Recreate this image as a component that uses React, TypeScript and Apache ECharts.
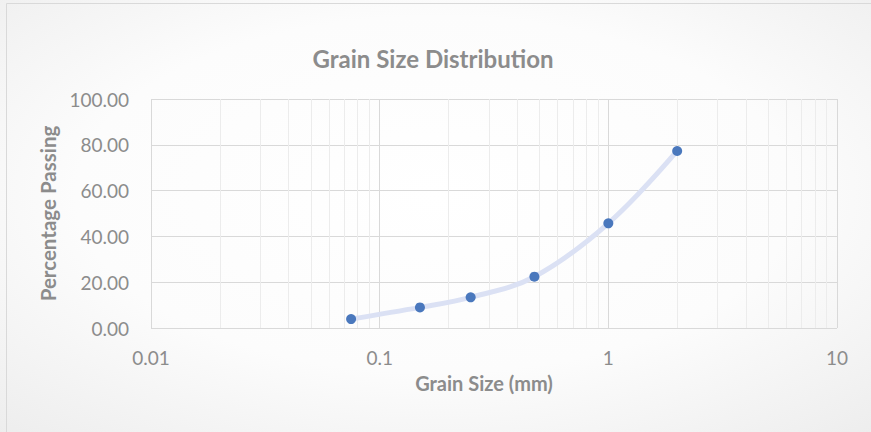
import React, { useEffect, useRef } from "react";
import * as echarts from "echarts";

const grainSizes = [0.075, 0.15, 0.25, 0.475, 1, 2];
const percentPassing = [3.9, 9.0, 13.4, 22.4, 45.7, 77.3];
const minorGridValues = [
  0.02, 0.03, 0.04, 0.05, 0.06, 0.07, 0.08, 0.09,
  0.2, 0.3, 0.4, 0.5, 0.6, 0.7, 0.8, 0.9,
  2, 3, 4, 5, 6, 7, 8, 9,
];
const titleText = "Grain Size Distribution";
const xAxisTitle = "Grain Size (mm)";
const yAxisTitle = "Percentage Passing";

const FONT = "Lato";

export default function App() {
  const ref = useRef<HTMLDivElement>(null);
  useEffect(() => {
    document.body.style.margin = "0";
    const chart = echarts.init(ref.current!, null, { renderer: "svg" });
    chart.setOption({
      animation: false,
      backgroundColor: new echarts.graphic.RadialGradient(0.5, 0.45, 0.75, [
        { offset: 0, color: "#ffffff" },
        { offset: 0.55, color: "#fcfcfc" },
        { offset: 1, color: "#ededed" },
      ]),
      textStyle: { fontFamily: FONT },
      title: {
        text: titleText,
        left: 428,
        top: 41,
        textAlign: "center",
        textStyle: { fontFamily: FONT, fontWeight: "bold", fontSize: 24, color: "#8c8c8c" },
      },
      graphic: [
        {
          type: "rect",
          shape: { x: 6.5, y: 3.5, width: 1000, height: 1000 },
          style: { fill: "none", stroke: "#d9d9d9", lineWidth: 1 },
          silent: true,
        },
      ],
      grid: { left: 151, right: 34, top: 99, bottom: 104, containLabel: false },
      xAxis: {
        type: "log",
        logBase: 10,
        min: 0.01,
        max: 10,
        name: xAxisTitle,
        nameLocation: "middle",
        nameGap: 45,
        nameTextStyle: {
          fontFamily: FONT,
          fontWeight: "bold",
          fontSize: 20,
          color: "#8c8c8c",
          padding: [0, 20, 0, 0],
        },
        axisLine: { show: false },
        axisTick: { show: false },
        axisLabel: { fontFamily: FONT, fontSize: 19, color: "#8c8c8c", margin: 20 },
        splitLine: { show: true, lineStyle: { color: "#d9d9d9", width: 1 } },
      },
      yAxis: {
        type: "value",
        min: 0,
        max: 100,
        interval: 20,
        name: yAxisTitle,
        nameLocation: "middle",
        nameGap: 84,
        nameTextStyle: { fontFamily: FONT, fontWeight: "bold", fontSize: 20.5, color: "#8c8c8c" },
        axisLine: { show: false },
        axisTick: { show: false },
        axisLabel: {
          fontFamily: FONT,
          fontSize: 19,
          color: "#8c8c8c",
          margin: 22,
          formatter: (v: number) => v.toFixed(2),
        },
        splitLine: { show: true, lineStyle: { color: "#d9d9d9", width: 1 } },
      },
      series: [
        {
          type: "line",
          data: grainSizes.map((x, i) => [x, percentPassing[i]]),
          smooth: 0.35,
          symbol: "circle",
          symbolSize: 10,
          lineStyle: { color: "#dbe1f4", width: 5 },
          itemStyle: { color: "#4a78bd" },
          markLine: {
            silent: true,
            symbol: "none",
            label: { show: false },
            lineStyle: { color: "#ececec", width: 1, type: "solid" },
            data: minorGridValues.map((v) => ({ xAxis: v })),
            z: 0,
          },
          z: 3,
        },
      ],
    });
    return () => chart.dispose();
  }, []);
  return <div ref={ref} style={{ width: 871, height: 432 }} />;
}
